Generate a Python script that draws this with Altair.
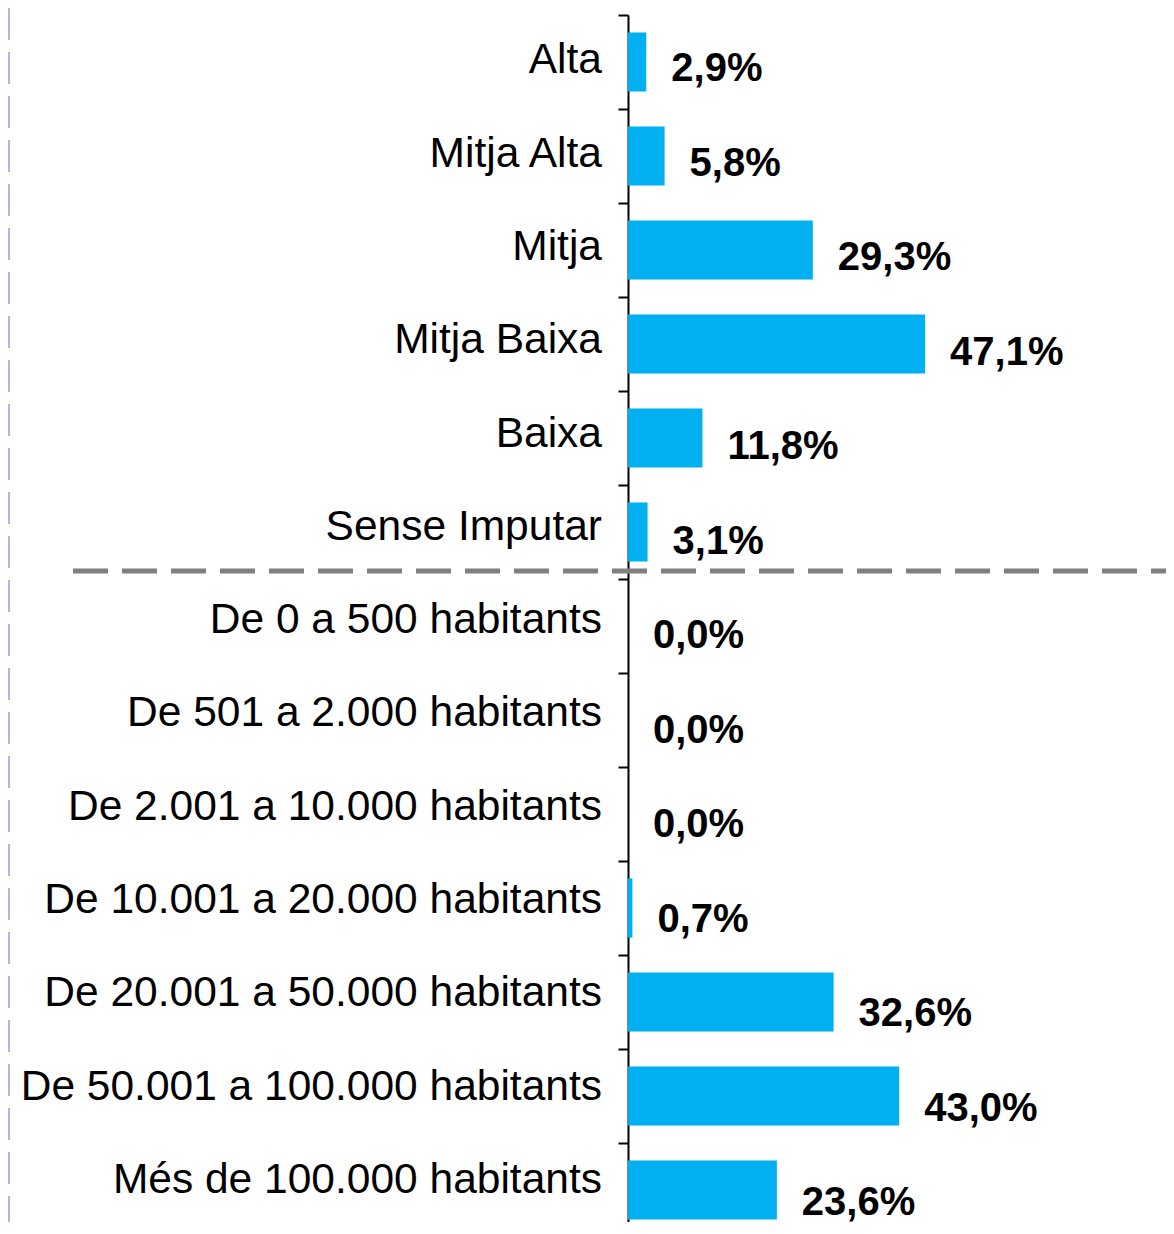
import altair as alt
import pandas as pd

categories = [
    "Alta", "Mitja Alta", "Mitja", "Mitja Baixa", "Baixa", "Sense Imputar",
    "De 0 a 500 habitants", "De 501 a 2.000 habitants",
    "De 2.001 a 10.000 habitants", "De 10.001 a 20.000 habitants",
    "De 20.001 a 50.000 habitants", "De 50.001 a 100.000 habitants",
    "Més de 100.000 habitants",
]
values = [2.9, 5.8, 29.3, 47.1, 11.8, 3.1, 0.0, 0.0, 0.0, 0.7, 32.6, 43.0, 23.6]

df = pd.DataFrame({"cat": categories, "value": values})

W = 538
H = 1207

x_scale = alt.Scale(domain=[0, 85.3], nice=False, zero=True)
y_band = alt.Scale(domain=categories, range=[0, 1222], paddingInner=0, paddingOuter=0)
y_cat = alt.Scale(type="point", domain=categories, range=[58.3, 1178], padding=0)
y_val = alt.Scale(type="point", domain=categories, range=[66, 1200], padding=0)

no_view = alt.ViewBackground(stroke="transparent", strokeWidth=0)

base = alt.Chart(df)

bars = base.mark_bar(
    color="#00B0F0", height=alt.RelativeBandSize(band=0.63)
).encode(
    x=alt.X("value:Q", scale=x_scale, axis=None),
    y=alt.Y(
        "cat:N",
        scale=y_band,
        sort=categories,
        axis=alt.Axis(
            title=None,
            labels=False,
            domain=True,
            ticks=True,
            tickBand="extent",
            tickSize=10,
            tickWidth=2,
            tickColor="#000000",
            domainColor="#000000",
            domainWidth=2,
            grid=False,
        ),
    ),
)

cat_labels = base.mark_text(
    align="right",
    baseline="alphabetic",
    font="Liberation Sans",
    fontSize=42.5,
    color="#000000",
).encode(
    x=alt.value(-26),
    y=alt.Y("cat:N", scale=y_cat, sort=categories, axis=None),
    text="cat:N",
)

val_labels = base.transform_calculate(
    label="replace(format(datum.value, '.1f'), '.', ',') + '%'"
).mark_text(
    align="left",
    baseline="alphabetic",
    dx=25,
    font="Liberation Sans",
    fontWeight="bold",
    fontSize=40,
    color="#000000",
).encode(
    x=alt.X("value:Q", scale=x_scale, axis=None),
    y=alt.Y("cat:N", scale=y_val, sort=categories, axis=None),
    text="label:N",
)

sep = alt.Chart(pd.DataFrame({"a": [0]})).mark_rule(
    color="#808080", strokeWidth=5, strokeDash=[35, 14]
).encode(x=alt.value(-555), x2=alt.value(W), y=alt.value(556))

frame = alt.Chart(pd.DataFrame({"a": [0]})).mark_rule(
    color="#B4B4DC", strokeWidth=2, strokeDash=[32, 12]
).encode(x=alt.value(-619), y=alt.value(-7), y2=alt.value(H))

chart = (
    alt.layer(frame, sep, bars, cat_labels, val_labels)
    .resolve_scale(y="independent")
    .properties(
        width=W,
        height=H,
        padding={"left": 620, "top": 7, "right": 0, "bottom": 0},
        autosize=alt.AutoSizeParams(type="none"),
        view=no_view,
    )
    .configure_view(stroke="transparent", strokeWidth=0)
    .configure_axis(domain=False, ticks=False, grid=False, labels=False)
    .configure(background="#ffffff")
)

chart.save("out.html", embed_options={"renderer": "svg", "actions": False})
